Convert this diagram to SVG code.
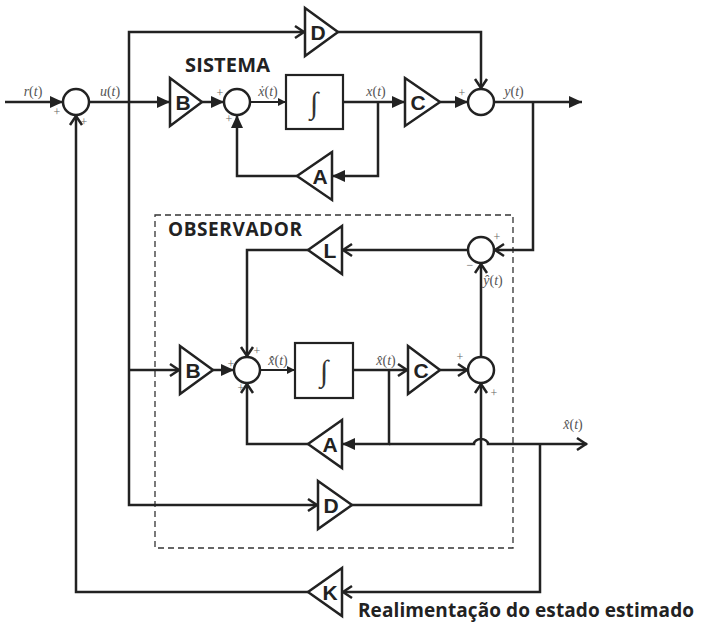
<svg xmlns="http://www.w3.org/2000/svg" width="701" height="623" viewBox="0 0 701 623">
<style>
.ln{fill:none;stroke:#222;stroke-width:2.5;stroke-linejoin:miter}
.th{fill:none;stroke:#222;stroke-width:1.8}
.blk{fill:#fff;stroke:#222;stroke-width:2.5;stroke-linejoin:miter}
.box{fill:#fff;stroke:#222;stroke-width:2.2}
.gl{font-family:"Liberation Sans",Arial,sans-serif;font-weight:bold;font-size:21px;fill:#222;text-anchor:middle}
.lb{font-family:"Liberation Serif","Times New Roman",serif;font-size:14px;fill:#555;text-anchor:middle}
.pm{font-family:"Liberation Serif","Times New Roman",serif;font-size:12px;fill:#666;text-anchor:middle}
.int{font-family:"Liberation Serif","Times New Roman",serif;font-size:30px;fill:#333;text-anchor:middle}
.ttl{font-family:"Open Sans","Liberation Sans",sans-serif;font-weight:bold;fill:#222}
.dash{fill:none;stroke:#333;stroke-width:1.3;stroke-dasharray:6 4}
</style>
<defs>
<marker id="af" markerUnits="userSpaceOnUse" markerWidth="14" markerHeight="14" refX="13" refY="7" orient="auto" overflow="visible"><path d="M0,1 L13,7 L0,13 z" fill="#222"/></marker>
<marker id="as" markerUnits="userSpaceOnUse" markerWidth="10" markerHeight="10" refX="8" refY="4" orient="auto" overflow="visible"><path d="M0,0 L8,4 L0,8 z" fill="#222"/></marker>
<marker id="ao" markerUnits="userSpaceOnUse" markerWidth="14" markerHeight="14" refX="12" refY="7" orient="auto" overflow="visible"><path d="M2,1 L11,7 L2,13" fill="none" stroke="#222" stroke-width="2.5"/></marker>
</defs>

<rect id="observador-box" class="dash" x="155" y="215" width="358" height="333"/>

<g id="connectors">
<path class="ln" d="M5,102 H63" marker-end="url(#af)"/>
<path class="ln" d="M89,102 H170" marker-end="url(#af)"/>
<path class="ln" d="M129,102 V32 H305" marker-end="url(#ao)"/>
<path class="ln" d="M129,102 V505 H318" marker-end="url(#ao)"/>
<path class="ln" d="M338,32 H481 V89" marker-end="url(#ao)"/>
<path class="ln" d="M202,102 H224" marker-end="url(#af)"/>
<path class="th" d="M250,102 H286" marker-end="url(#as)"/>
<path class="ln" d="M343,102 H405" marker-end="url(#af)"/>
<path class="ln" d="M378,102 V176 H332" marker-end="url(#af)"/>
<path class="ln" d="M297,176 H237 V115" marker-end="url(#af)"/>
<path class="ln" d="M440,102 H468" marker-end="url(#af)"/>
<path class="ln" d="M494,102 H582" marker-end="url(#af)"/>
<path class="ln" d="M533,102 V250 H494" marker-end="url(#ao)"/>
<path class="ln" d="M468,250 H342" marker-end="url(#ao)"/>
<path class="ln" d="M308,250 H247 V357" marker-end="url(#ao)"/>
<path class="ln" d="M129,370 H180" marker-end="url(#ao)"/>
<path class="ln" d="M213,370 H234" marker-end="url(#af)"/>
<path class="th" d="M260,370 H295" marker-end="url(#as)"/>
<path class="ln" d="M353,370 H408" marker-end="url(#ao)"/>
<path class="ln" d="M389,370 V444 H342" marker-end="url(#af)"/>
<path class="ln" d="M389,444 H474 A7,5 0 0 1 488,444 H587" marker-end="url(#ao)"/>
<path class="ln" d="M308,444 H247 V383" marker-end="url(#ao)"/>
<path class="ln" d="M440,370 H468" marker-end="url(#ao)"/>
<path class="ln" d="M481,357 V263" marker-end="url(#ao)"/>
<path class="ln" d="M352,505 H481 V383" marker-end="url(#ao)"/>
<path class="ln" d="M540,444 V592 H342" marker-end="url(#ao)"/>
<path class="ln" d="M308,592 H76 V115" marker-end="url(#ao)"/>
</g>

<g id="sum1"><circle class="blk" cx="76" cy="102" r="13"/><text class="pm" x="57" y="116">+</text><text class="pm" x="84" y="126">+</text></g>
<g id="gainB"><polygon class="blk" points="170,78 202,102 170,126"/><text class="gl" x="183" y="110">B</text></g>
<g id="gainD"><polygon class="blk" points="305,8 338,32 305,56"/><text class="gl" x="318" y="40">D</text></g>
<g id="sum2"><circle class="blk" cx="237" cy="102" r="13"/><text class="pm" x="220" y="97">+</text><text class="pm" x="229" y="123">+</text></g>
<g id="integ"><rect class="box" x="286" y="75" width="57" height="54"/><text class="int" x="314" y="113">∫</text></g>
<g id="gainC"><polygon class="blk" points="405,78 440,102 405,126"/><text class="gl" x="418" y="110">C</text></g>
<g id="gainA"><polygon class="blk" points="332,152 297,176 332,200"/><text class="gl" x="320" y="184">A</text></g>
<g id="sum3"><circle class="blk" cx="481" cy="102" r="13"/><text class="pm" x="462" y="97">+</text></g>

<g id="sumO1"><circle class="blk" cx="481" cy="250" r="13"/><text class="pm" x="497" y="241">+</text><text class="pm" x="470" y="269">−</text></g>
<g id="gainL"><polygon class="blk" points="342,226 308,250 342,274"/><text class="gl" x="330" y="258">L</text></g>
<g id="gainBo"><polygon class="blk" points="180,346 213,370 180,394"/><text class="gl" x="193" y="378">B</text></g>
<g id="sum4"><circle class="blk" cx="247" cy="370" r="13"/><text class="pm" x="257" y="355">+</text><text class="pm" x="231" y="368">+</text><text class="pm" x="241" y="392">+</text></g>
<g id="integO"><rect class="box" x="295" y="343" width="58" height="55"/><text class="int" x="324" y="381">∫</text></g>
<g id="gainCo"><polygon class="blk" points="408,346 440,370 408,394"/><text class="gl" x="421" y="378">C</text></g>
<g id="sumO2"><circle class="blk" cx="481" cy="370" r="13"/><text class="pm" x="460" y="361">+</text><text class="pm" x="494" y="397">+</text></g>
<g id="gainAo"><polygon class="blk" points="342,420 308,444 342,468"/><text class="gl" x="330" y="452">A</text></g>
<g id="gainDo"><polygon class="blk" points="318,481 352,505 318,529"/><text class="gl" x="331" y="513">D</text></g>
<g id="gainK"><polygon class="blk" points="342,568 308,592 342,616"/><text class="gl" x="330" y="600">K</text></g>

<g id="labels">
<text class="lb" x="33" y="96"><tspan font-style="italic">r</tspan>(<tspan font-style="italic">t</tspan>)</text>
<text class="lb" x="110" y="96"><tspan font-style="italic">u</tspan>(<tspan font-style="italic">t</tspan>)</text>
<text class="lb" x="268" y="96"><tspan font-style="italic">ẋ</tspan>(<tspan font-style="italic">t</tspan>)</text>
<text class="lb" x="376" y="96"><tspan font-style="italic">x</tspan>(<tspan font-style="italic">t</tspan>)</text>
<text class="lb" x="514" y="96"><tspan font-style="italic">y</tspan>(<tspan font-style="italic">t</tspan>)</text>
<text class="lb" x="493" y="285"><tspan font-style="italic">ŷ</tspan>(<tspan font-style="italic">t</tspan>)</text>
<text class="lb" x="278" y="365"><tspan font-style="italic">x̂̇</tspan>(<tspan font-style="italic">t</tspan>)</text>
<text class="lb" x="386" y="365"><tspan font-style="italic">x̂</tspan>(<tspan font-style="italic">t</tspan>)</text>
<text class="lb" x="573" y="429"><tspan font-style="italic">x̂</tspan>(<tspan font-style="italic">t</tspan>)</text>
<text class="ttl" x="185" y="72" font-size="20" textLength="85">SISTEMA</text>
<text class="ttl" x="168" y="236" font-size="19" textLength="134">OBSERVADOR</text>
<text class="ttl" x="358" y="617" font-size="19" textLength="336">Realimentação do estado estimado</text>
</g>
</svg>
